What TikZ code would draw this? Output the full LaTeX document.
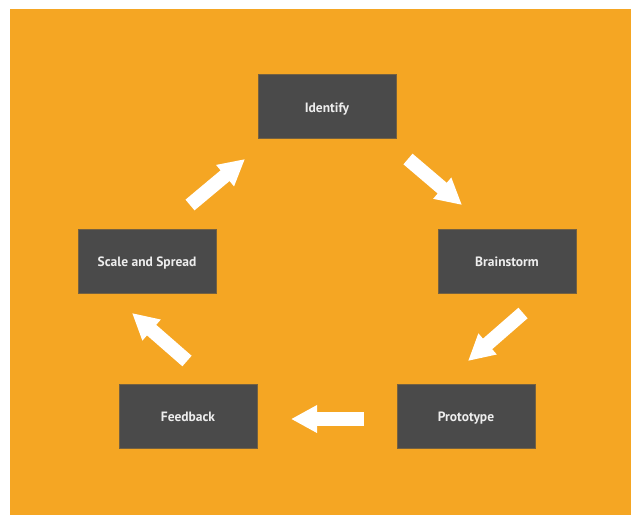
\documentclass[tikz,border=0pt]{standalone}
\usepackage{fontspec}
\setmainfont{PT Sans}
\usetikzlibrary{arrows.meta}
\definecolor{bgorange}{HTML}{F5A623}
\definecolor{boxgray}{HTML}{4A4A4A}
\tikzset{
  stage/.style={rectangle,fill=boxgray,draw=boxgray!75!bgorange,line width=0.6pt,
    minimum width=138pt,minimum height=64pt,text=white!93!black,
    text height=11pt,text depth=0pt,
    font=\bfseries\fontsize{13.5}{16}\selectfont},
  flow/.style={draw=white,line width=14pt,-{Triangle[length=26pt,width=26pt]}}
}
\begin{document}
\begin{tikzpicture}[x=1pt,y=-1pt]
    %% Canvas
    \useasboundingbox (0,0) rectangle (631,515);
    \fill[bgorange] (10,9) rectangle (631,515);
    %% Stages
    \node[stage] (identify) at (327,106.5) {Identify};
    \node[stage] (brainstorm) at (507,261) {Brainstorm};
    \node[stage] (prototype) at (466,416) {Prototype};
    \node[stage] (feedback) at (188,416) {Feedback};
    \node[stage] (scale) at (147,261) {Scale and Spread};
    %% Arrow ends
    \coordinate (identify-out) at (408,159);
    \coordinate (brainstorm-in) at (462,205);
    \coordinate (brainstorm-out) at (523,313);
    \coordinate (prototype-in) at (468,361);
    \coordinate (prototype-out) at (364,419);
    \coordinate (feedback-in) at (291,419);
    \coordinate (feedback-out) at (187,361);
    \coordinate (scale-in) at (132,313);
    \coordinate (scale-out) at (190,205);
    \coordinate (identify-in) at (245,159);
    %% Cycle
    \draw[flow] (identify-out) -- (brainstorm-in);
    \draw[flow] (brainstorm-out) -- (prototype-in);
    \draw[flow] (prototype-out) -- (feedback-in);
    \draw[flow] (feedback-out) -- (scale-in);
    \draw[flow] (scale-out) -- (identify-in);
\end{tikzpicture}
\end{document}
